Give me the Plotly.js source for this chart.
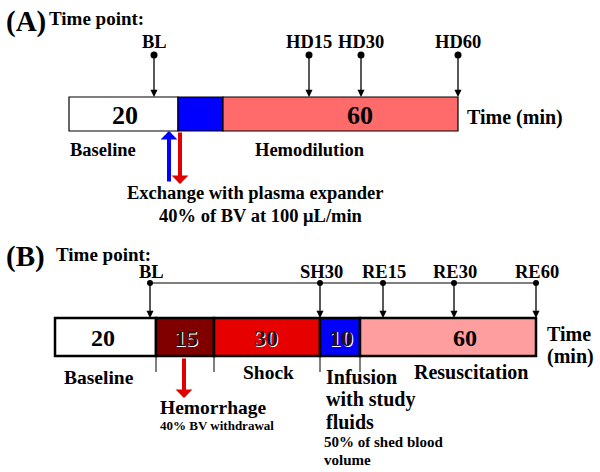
<!DOCTYPE html>
<html>
<head>
<meta charset="utf-8">
<script src="https://cdn.plot.ly/plotly-3.0.1.min.js"></script>
<style>
  body { margin: 0; background: white; }
  #myDiv { width: 600px; height: 472px; }
</style>
</head>
<body>
<div id="myDiv"></div>
<script>
// Panel A: hemodilution protocol
var segLabelsA = ['20', '', '60'];
var segEdgesA = [69, 178, 223, 458];
var segColorsA = ['#ffffff', '#0000ff', '#ff6b6b'];
var segTextXA = [125, 0, 360];
var timePointsA = ['BL', 'HD15', 'HD30', 'HD60'];
var timePointXA = [154, 309, 361, 458];

// Panel B: hemorrhagic shock / resuscitation protocol
var segLabelsB = ['20', '15', '30', '10', '60'];
var segEdgesB = [55, 156, 214, 320, 360, 536];
var segColorsB = ['#ffffff', '#800000', '#e60000', '#0000ff', '#ff9e9e'];
var segTextXB = [103, 186, 266, 341, 465];
var timePointsB = ['BL', 'SH30', 'RE15', 'RE30', 'RE60'];
var timePointXB = [150, 320, 383, 454, 536];

var FONT = 'Liberation Serif, Times New Roman, serif';

function barTrace(edges, colors, yc, h, lw){
    var base = [], w = [], y = [];
    for (var i = 0; i < edges.length - 1; i++) {
        base.push(edges[i]);
        w.push(edges[i + 1] - edges[i]);
        y.push(yc);
    }
    return {
        type: 'bar',
        orientation: 'h',
        base: base,
        x: w,
        y: y,
        width: h,
        marker: { color: colors, line: { color: 'black', width: lw } },
        hoverinfo: 'skip'
    };
}

function txt(s, x, y, size, anchor){
    return {
        text: s, x: x, y: y, xref: 'x', yref: 'y',
        xanchor: anchor || 'center', yanchor: 'middle',
        showarrow: false,
        font: { family: FONT, size: size, color: 'black', weight: 'bold' }
    };
}

function arrow(x0, y0, x1, y1, color, width, head, size){
    return {
        text: '', x: x1, y: y1, ax: x0, ay: y0,
        xref: 'x', yref: 'y', axref: 'x', ayref: 'y',
        showarrow: true, arrowhead: head, arrowsize: size,
        arrowwidth: width, arrowcolor: color, standoff: 0
    };
}

var annotations = [];
var data = [];

// ---- Panel A ----
data.push(barTrace(segEdgesA, segColorsA, 114, 34, 1.2));
annotations.push(txt('(A)', 4, 21, 29, 'left'));
annotations.push(txt('Time point:', 47, 18, 19, 'left'));
var cxA = [], cyA = [];
timePointsA.forEach(function(lbl, i){
    var x = timePointXA[i];
    annotations.push(txt(lbl, x, 42, 18.5));
    annotations.push(arrow(x, 55, x, 97, 'black', 1.3, 2, 1.1));
    cxA.push(x); cyA.push(55);
});
data.push({ type: 'scatter', mode: 'markers', x: cxA, y: cyA,
            marker: { color: 'black', size: 7 }, hoverinfo: 'skip' });
segLabelsA.forEach(function(lbl, i){
    if (lbl) annotations.push(txt(lbl, segTextXA[i], 115, 26));
});
annotations.push(txt('Time (min)', 465, 117, 20, 'left'));
annotations.push(txt('Baseline', 103, 150, 18.5));
annotations.push(txt('Hemodilution', 310, 150, 18.5));
annotations.push(arrow(169, 183, 169, 131, '#0000ff', 4, 1, 0.7));
annotations.push(arrow(180, 131, 180, 184, '#e00000', 4, 1, 0.7));
annotations.push(txt('Exchange with plasma expander', 255, 193, 18.5));
annotations.push(txt('40% of BV at 100 \u03bcL/min', 261, 216, 18.5));

// ---- Panel B ----
data.push(barTrace(segEdgesB, segColorsB, 337, 38, 2.5));
annotations.push(txt('(B)', 4, 256, 29, 'left'));
annotations.push(txt('Time point:', 54, 254, 19, 'left'));
data.push({ type: 'scatter', mode: 'lines',
            x: [timePointXB[0], timePointXB[timePointXB.length - 1]], y: [283, 283],
            line: { color: 'black', width: 1.2 }, hoverinfo: 'skip' });
var cxB = [], cyB = [];
timePointsB.forEach(function(lbl, i){
    var x = timePointXB[i];
    annotations.push(txt(lbl, x + 1, 272, 18.5));
    annotations.push(arrow(x, 283, x, 318, 'black', 1.3, 2, 1.1));
    cxB.push(x); cyB.push(283);
});
data.push({ type: 'scatter', mode: 'markers', x: cxB, y: cyB,
            marker: { color: 'black', size: 6 }, hoverinfo: 'skip' });
segLabelsB.forEach(function(lbl, i){
    var a = txt(lbl, segTextXB[i], 338, 24);
    if (i > 0 && i < 4) {
        a.font.color = '#2a1010';
        a.font.shadow = '1px 1px 0px #ffffff';
    }
    annotations.push(a);
});
annotations.push(txt('Time', 545, 334, 20, 'left'));
annotations.push(txt('(min)', 545, 356, 20, 'left'));

// tick marks under bar B
var tx = [], ty = [];
[1, 2, 3, 4].forEach(function(k){
    tx.push(segEdgesB[k], segEdgesB[k], null);
    ty.push(356, 372, null);
});
data.push({ type: 'scatter', mode: 'lines', x: tx, y: ty,
            line: { color: 'black', width: 1 }, hoverinfo: 'skip' });

annotations.push(txt('Baseline', 99, 377, 19.5));
annotations.push(txt('Shock', 268, 372, 19.5));
annotations.push(txt('Resuscitation', 471, 372, 20));
annotations.push(arrow(184, 357, 184, 398, '#e00000', 4, 1, 0.7));
annotations.push(txt('Hemorrhage', 158, 407, 19.5, 'left'));
annotations.push(txt('40% BV withdrawal', 158, 425, 13, 'left'));
annotations.push(txt('Infusion', 324, 377, 20, 'left'));
annotations.push(txt('with study', 324, 399, 20, 'left'));
annotations.push(txt('fluids', 324, 422, 20, 'left'));
annotations.push(txt('50% of shed blood', 322, 442, 15, 'left'));
annotations.push(txt('volume', 322, 460, 15, 'left'));

var layout = {
    width: 600,
    height: 472,
    margin: { l: 0, r: 0, t: 0, b: 0 },
    paper_bgcolor: 'white',
    plot_bgcolor: 'white',
    showlegend: false,
    barmode: 'overlay',
    xaxis: { range: [0, 600], visible: false, fixedrange: true },
    yaxis: { range: [472, 0], visible: false, fixedrange: true },
    annotations: annotations
};

Plotly.newPlot('myDiv', data, layout, { displayModeBar: false, staticPlot: true });
</script>
</body>
</html>
